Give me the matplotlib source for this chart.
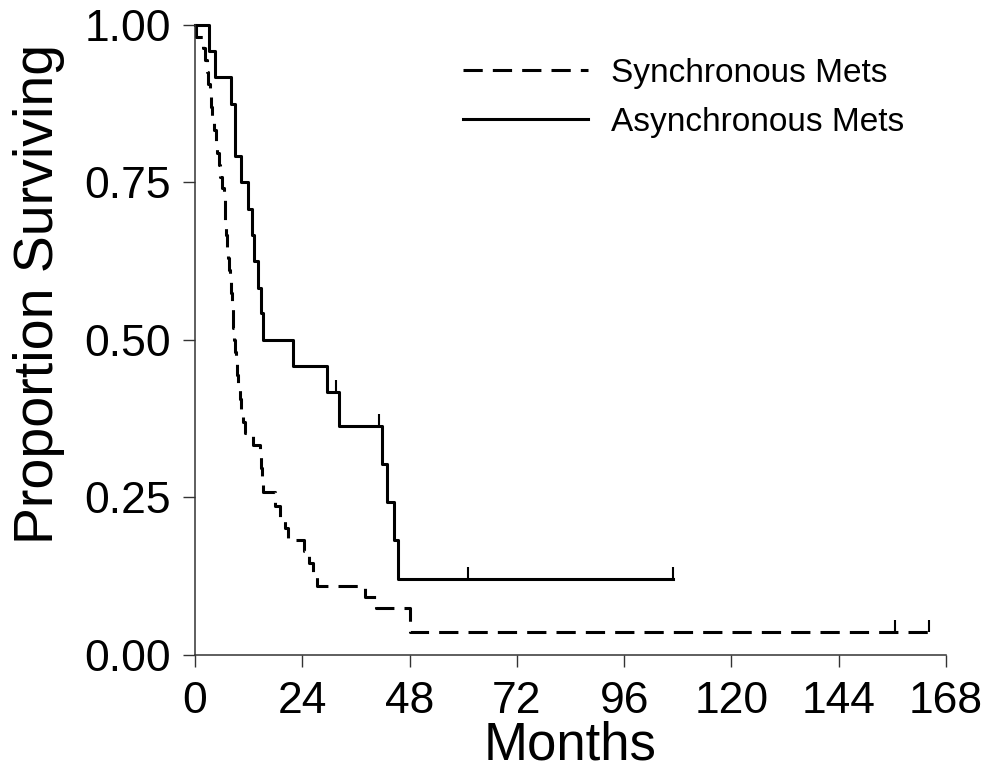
import matplotlib
matplotlib.use("Agg")
import matplotlib.pyplot as plt
from matplotlib.markers import TICKUP

plt.rcParams["font.family"] = ["Liberation Sans", "DejaVu Sans"]

# Kaplan-Meier steps (months, proportion surviving after the step)
sync_times = [0, 0.3, 1.8, 2.2, 2.6, 3.0, 3.3, 3.6, 3.9, 4.3, 4.6, 5.0, 5.3, 5.7,
              6.1, 6.4, 6.6, 6.8, 7.0, 7.2, 7.4, 7.6, 7.8, 8.0, 8.2, 8.4, 8.6,
              8.8, 9.0, 9.2, 9.4, 9.7, 10.0, 10.3, 10.7, 11.1, 12.9, 14.5, 14.7,
              14.9, 15.1, 17.9, 19.0, 20.1, 20.8, 24.3, 25.5, 26.5, 27.2, 38.0,
              40.6, 48.0, 164.1]
sync_surv = [1.0, 0.981, 0.963, 0.944, 0.926, 0.907, 0.889, 0.870, 0.852, 0.833,
             0.815, 0.796, 0.778, 0.759, 0.741, 0.722, 0.704, 0.685, 0.667, 0.648,
             0.630, 0.611, 0.593, 0.574, 0.556, 0.537, 0.519, 0.500, 0.481, 0.463,
             0.444, 0.426, 0.407, 0.389, 0.370, 0.352, 0.333, 0.315, 0.296, 0.278,
             0.259, 0.237, 0.219, 0.201, 0.183, 0.165, 0.146, 0.128, 0.110, 0.092,
             0.075, 0.037, 0.037]
sync_cens_t = [156.7, 164.1]
sync_cens_s = [0.037, 0.037]

async_times = [0, 3.2, 4.5, 8.0, 8.9, 10.2, 11.9, 12.7, 13.2, 14.2, 14.7, 15.1,
               22.0, 29.5, 32.3, 41.8, 43.0, 44.5, 45.3, 107.0]
async_surv = [1.0, 0.958, 0.917, 0.875, 0.792, 0.750, 0.708, 0.667, 0.625, 0.583,
              0.542, 0.500, 0.458, 0.417, 0.364, 0.303, 0.243, 0.182, 0.121, 0.121]
async_cens_t = [31.5, 41.2, 61.1, 107.0]
async_cens_s = [0.417, 0.364, 0.121, 0.121]

xticks = [0, 24, 48, 72, 96, 120, 144, 168]
yticks = [0.0, 0.25, 0.5, 0.75, 1.0]

fig = plt.figure(figsize=(10, 7.7), dpi=100)
ax = fig.add_axes([0.195, 0.1494, 0.751, 0.8182])

ax.step(sync_times, sync_surv, where="post", color="black", lw=2.2,
        dashes=(6.3, 3.3), label="Synchronous Mets", clip_on=False)
ax.step(async_times, async_surv, where="post", color="black", lw=2.2,
        label="Asynchronous Mets", clip_on=False)
# censor marks
ax.plot(sync_cens_t, sync_cens_s, ls="none", marker=TICKUP, ms=8.6, mew=1.5,
        color="black", clip_on=False)
ax.plot(async_cens_t, async_cens_s, ls="none", marker=TICKUP, ms=8.6, mew=1.5,
        color="black", clip_on=False)

ax.set_xlim(0, 168)
ax.set_ylim(0, 1)
ax.set_xticks(xticks)
ax.set_yticks(yticks)
ax.set_yticklabels(["%.2f" % v for v in yticks])
ax.tick_params(direction="out", length=8.6, width=1.0, labelsize=32,
               color="#333333")
ax.tick_params(axis="x", pad=10)
ax.tick_params(axis="y", pad=8.5)
for s in ["top", "right"]:
    ax.spines[s].set_visible(False)
for s in ["left", "bottom"]:
    ax.spines[s].set_linewidth(1.1)
    ax.spines[s].set_color("#333333")

ax.set_xlabel("Months", fontsize=38, labelpad=-1)
ax.set_ylabel("Proportion Surviving", fontsize=40)
ax.yaxis.set_label_coords(-0.173, 0.573)

ax.legend(loc="upper left", bbox_to_anchor=(0.463, 0.925), bbox_transform=fig.transFigure,
          frameon=False, fontsize=24, handlelength=3.75, handletextpad=0.7,
          labelspacing=0.55, borderpad=0, borderaxespad=0)

plt.savefig("out.png")
